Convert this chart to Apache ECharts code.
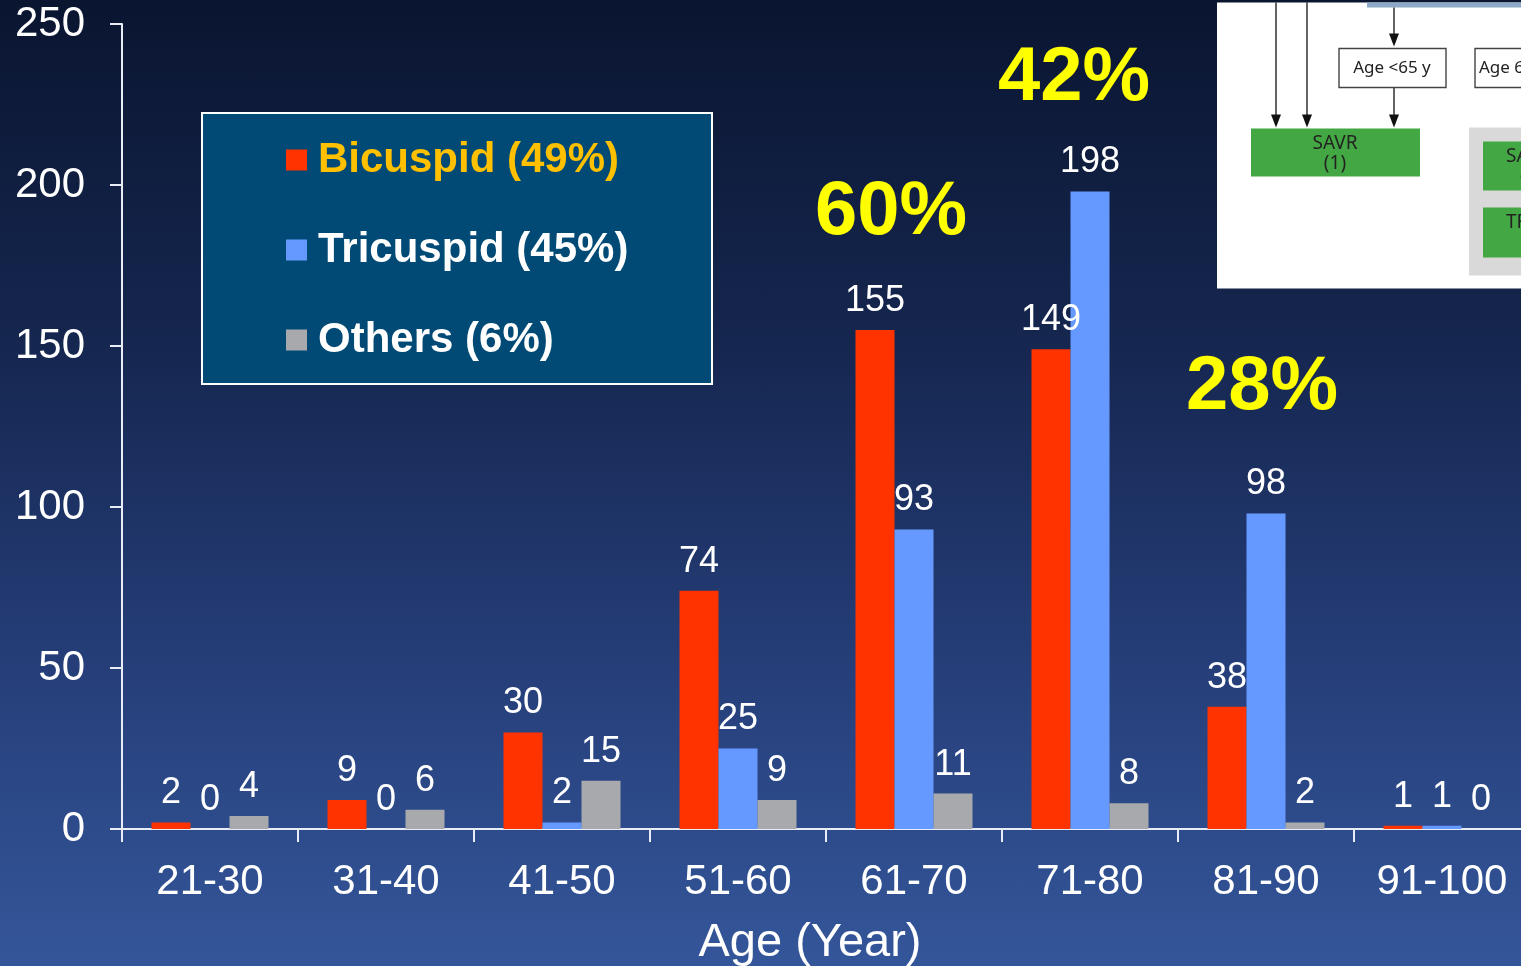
<!DOCTYPE html>
<html>
<head>
<meta charset="utf-8">
<script src="https://cdn.jsdelivr.net/npm/echarts@6/dist/echarts.min.js"></script>
<style>
  html, body { margin: 0; padding: 0; }
  #chart {
    width: 1521px; height: 966px;
    background: linear-gradient(180deg, #0a1530 0%, #15264f 35%, #263f7a 70%, #34569a 100%);
  }
</style>
</head>
<body>
<div id="chart"></div>
<script>
// Age groups and valve morphology counts
const ageGroups = ['21-30', '31-40', '41-50', '51-60', '61-70', '71-80', '81-90', '91-100'];
const bicuspid  = [2, 9, 30, 74, 155, 149, 38, 1];
const tricuspid = [0, 0, 2, 25, 93, 198, 98, 1];
const others    = [4, 6, 15, 9, 11, 8, 2, 0];
const seriesNames = ['Bicuspid (49%)', 'Tricuspid (45%)', 'Others (6%)'];
const yTicks = { min: 0, max: 250, step: 50 };
// Share of bicuspid valves in selected age bands
const bandShares = [
  { text: '60%', x: 891, y: 213 },
  { text: '42%', x: 1074, y: 79 },
  { text: '28%', x: 1262, y: 388 }
];

const FONT = '"Liberation Sans", Arial, Helvetica, sans-serif';
const colors = ['#ff3300', '#6699ff', '#a8a9ad'];

const chart = echarts.init(document.getElementById('chart'), null, { renderer: 'canvas' });

function barSeries(name, data, color) {
  return {
    name: name,
    type: 'bar',
    data: data,
    barWidth: 39,
    barGap: '0%',
    itemStyle: { color: color },
    label: {
      show: true,
      position: 'top',
      distance: 11,
      color: '#ffffff',
      fontFamily: FONT,
      fontSize: 36
    }
  };
}

// Small flowchart excerpt in the upper right corner
const boxFont = '17px "Noto Sans", sans-serif';
const greenFont = '19px "Noto Sans", sans-serif';
const inset = {
  type: 'group',
  left: 1217,
  top: 0,
  children: [
    { type: 'rect', shape: { x: 0, y: 0, width: 310, height: 286 }, style: { fill: '#ffffff' } },
    { type: 'rect', shape: { x: 150, y: 0, width: 160, height: 5 }, style: { fill: '#8ea8c8' } },
    // arrows
    { type: 'line', shape: { x1: 59, y1: 0, x2: 59, y2: 116 }, style: { stroke: '#222', lineWidth: 1.4 } },
    { type: 'polygon', shape: { points: [[54, 112], [64, 112], [59, 125]] }, style: { fill: '#111' } },
    { type: 'line', shape: { x1: 90, y1: 0, x2: 90, y2: 116 }, style: { stroke: '#222', lineWidth: 1.4 } },
    { type: 'polygon', shape: { points: [[85, 112], [95, 112], [90, 125]] }, style: { fill: '#111' } },
    { type: 'line', shape: { x1: 177, y1: 5, x2: 177, y2: 36 }, style: { stroke: '#222', lineWidth: 1.4 } },
    { type: 'polygon', shape: { points: [[172, 31], [182, 31], [177, 44]] }, style: { fill: '#111' } },
    { type: 'line', shape: { x1: 177, y1: 85, x2: 177, y2: 116 }, style: { stroke: '#222', lineWidth: 1.4 } },
    { type: 'polygon', shape: { points: [[172, 112], [182, 112], [177, 125]] }, style: { fill: '#111' } },
    // boxes
    { type: 'rect', shape: { x: 122, y: 46, width: 107, height: 39 }, style: { fill: '#fff', stroke: '#444', lineWidth: 1.4 } },
    { type: 'text', x: 175, y: 66, style: { text: 'Age <65 y', fill: '#222', font: boxFont, align: 'center', verticalAlign: 'middle' } },
    { type: 'rect', shape: { x: 258, y: 46, width: 80, height: 39 }, style: { fill: '#fff', stroke: '#444', lineWidth: 1.4 } },
    { type: 'text', x: 262, y: 66, style: { text: 'Age 65-80 y', fill: '#222', font: boxFont, align: 'left', verticalAlign: 'middle' } },
    { type: 'rect', shape: { x: 34, y: 126, width: 169, height: 48 }, style: { fill: '#43a843' } },
    { type: 'text', x: 118, y: 141, style: { text: 'SAVR', fill: '#222', font: greenFont, align: 'center', verticalAlign: 'middle' } },
    { type: 'text', x: 118, y: 161, style: { text: '(1)', fill: '#222', font: greenFont, align: 'center', verticalAlign: 'middle' } },
    { type: 'rect', shape: { x: 252, y: 125, width: 60, height: 148 }, style: { fill: '#d9d9d9' } },
    { type: 'rect', shape: { x: 266, y: 139, width: 46, height: 49 }, style: { fill: '#43a843' } },
    { type: 'text', x: 289, y: 154, style: { text: 'SAVR', fill: '#222', font: greenFont, align: 'left', verticalAlign: 'middle' } },
    { type: 'text', x: 303, y: 174, style: { text: '(1)', fill: '#222', font: greenFont, align: 'left', verticalAlign: 'middle' } },
    { type: 'rect', shape: { x: 266, y: 205, width: 46, height: 50 }, style: { fill: '#43a843' } },
    { type: 'text', x: 289, y: 220, style: { text: 'TF-TAVI', fill: '#222', font: greenFont, align: 'left', verticalAlign: 'middle' } }
  ]
};

const option = {
  backgroundColor: 'transparent',
  animation: false,
  grid: { left: 122, top: 24, width: 1408, height: 805, containLabel: false, outerBoundsMode: 'none' },
  xAxis: {
    type: 'category',
    data: ageGroups,
    axisLine: { lineStyle: { color: '#e8ecf4', width: 2 } },
    axisTick: { show: true, length: 13, lineStyle: { color: '#e8ecf4', width: 2 } },
    axisLabel: { color: '#ffffff', fontFamily: FONT, fontSize: 42, margin: 32 },
    name: 'Age (Year)',
    nameLocation: 'middle',
    nameGap: 91,
    nameTextStyle: { color: '#ffffff', fontFamily: FONT, fontSize: 47, padding: [0, 32, 0, 0] }
  },
  yAxis: {
    type: 'value',
    min: yTicks.min,
    max: yTicks.max,
    interval: yTicks.step,
    axisLine: { show: true, lineStyle: { color: '#e8ecf4', width: 2 } },
    axisTick: { show: true, length: 12, lineStyle: { color: '#e8ecf4', width: 2 } },
    splitLine: { show: false },
    axisLabel: { color: '#ffffff', fontFamily: FONT, fontSize: 42, margin: 37 }
  },
  legend: {
    orient: 'vertical',
    left: 286,
    top: 139,
    padding: 0,
    itemGap: 48,
    itemWidth: 21,
    itemHeight: 21,
    icon: 'rect',
    textStyle: { color: '#ffffff', fontFamily: FONT, fontSize: 42, fontWeight: 'bold', padding: [0, 0, 0, 6] },
    data: [
      { name: seriesNames[0], textStyle: { color: '#ffc000' } },
      { name: seriesNames[1] },
      { name: seriesNames[2] }
    ],
    z: 5
  },
  series: [
    barSeries(seriesNames[0], bicuspid, colors[0]),
    barSeries(seriesNames[1], tricuspid, colors[1]),
    barSeries(seriesNames[2], others, colors[2])
  ],
  graphic: [
    {
      type: 'rect', z: 1, silent: true,
      shape: { x: 202, y: 113, width: 510, height: 271 },
      style: { fill: '#004a75', stroke: '#ffffff', lineWidth: 2 }
    },
    ...bandShares.map(s => ({
      type: 'text', x: s.x, y: s.y, z: 10,
      style: {
        text: s.text, fill: '#ffff00',
        font: 'bold 76px ' + FONT, align: 'center', verticalAlign: 'middle'
      }
    })),
    Object.assign(inset, { z: 20 })
  ]
};

chart.setOption(option);
</script>
</body>
</html>
